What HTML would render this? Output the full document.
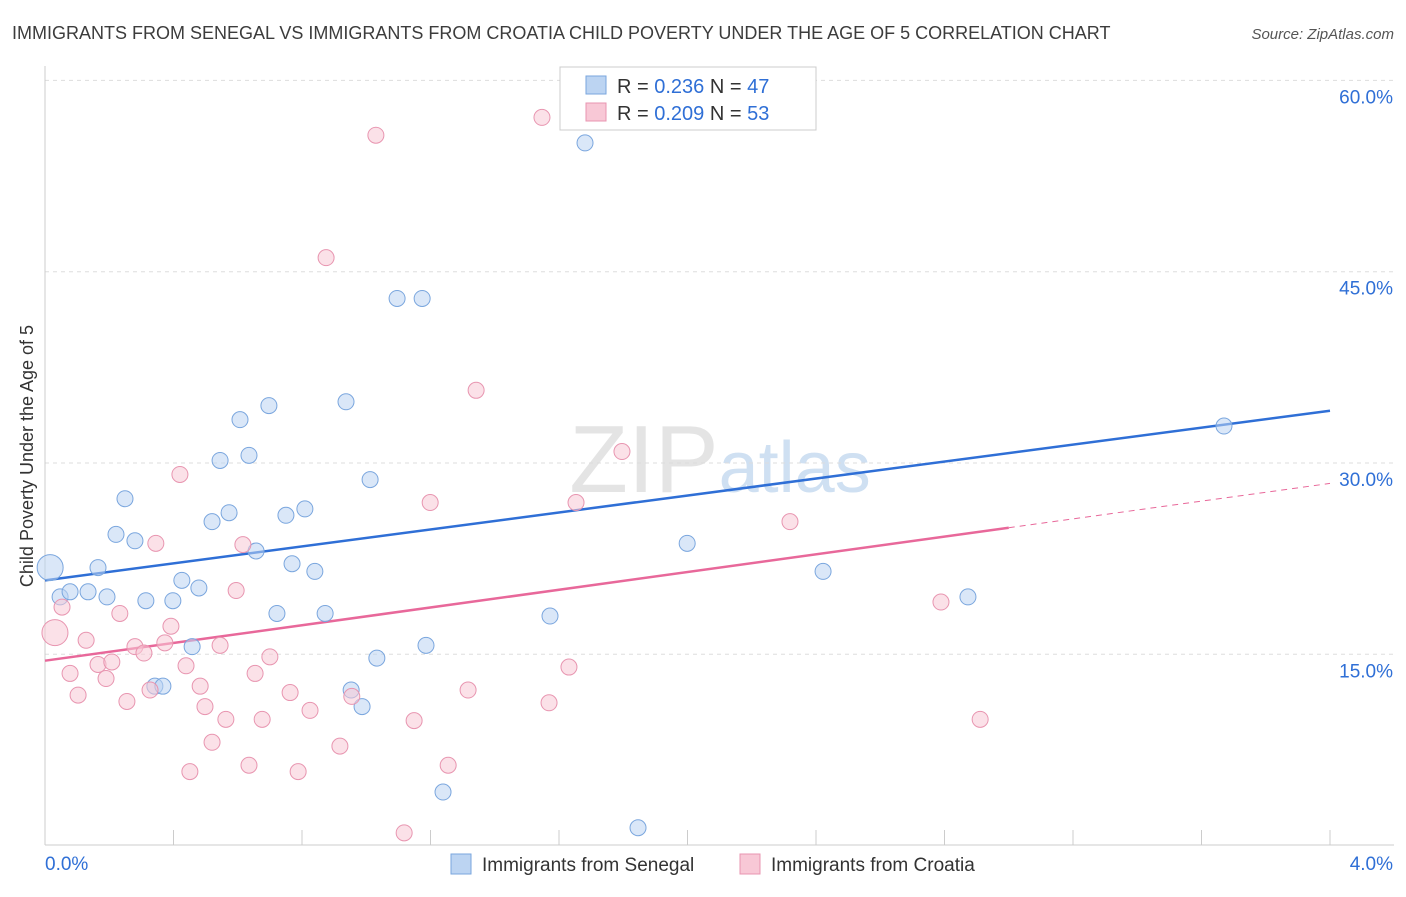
<!DOCTYPE html>
<html><head><meta charset="utf-8"><style>
body{margin:0;background:#fff;font-family:"Liberation Sans",sans-serif;}
svg text{font-family:"Liberation Sans",sans-serif;}
</style></head><body>
<svg id="chart" width="1406" height="892" xmlns="http://www.w3.org/2000/svg">
<text x="12" y="39" font-size="18" fill="#3c3c3c">IMMIGRANTS FROM SENEGAL VS IMMIGRANTS FROM CROATIA CHILD POVERTY UNDER THE AGE OF 5 CORRELATION CHART</text>
<text x="1394" y="39" font-size="15" fill="#555" text-anchor="end" font-style="italic">Source: ZipAtlas.com</text>
<text x="720" y="492" font-size="96" fill="#e4e4e4" text-anchor="middle" font-family="Liberation Serif">ZIP<tspan fill="#cfe0f2" font-family="Liberation Sans" font-size="72">atlas</tspan></text>
<text transform="translate(33,456) rotate(-90)" font-size="18" fill="#333" text-anchor="middle">Child Poverty Under the Age of 5</text>
<g id="grid"></g><g id="axes"></g><g id="lines"></g><g id="pts"></g>
<g>
<rect x="560" y="67" width="256" height="63" fill="#fff" stroke="#ccc"/>
<rect x="586" y="76" width="20" height="18" fill="#bcd4f2" stroke="#7aa6de"/>
<rect x="586" y="103" width="20" height="18" fill="#f8c8d6" stroke="#e895b0"/>
<text x="617" y="93" font-size="20" fill="#333">R = <tspan fill="#2f6fd6">0.236</tspan>   N = <tspan fill="#2f6fd6">47</tspan></text>
<text x="617" y="120" font-size="20" fill="#333">R = <tspan fill="#2f6fd6">0.209</tspan>   N = <tspan fill="#2f6fd6">53</tspan></text>
</g>
<g>
<rect x="451" y="854" width="20" height="20" fill="#bcd4f2" stroke="#7aa6de"/>
<text x="482" y="871" font-size="19" fill="#333">Immigrants from Senegal</text>
<rect x="740" y="854" width="20" height="20" fill="#f8c8d6" stroke="#e895b0"/>
<text x="771" y="871" font-size="19" fill="#333">Immigrants from Croatia</text>
</g>
</svg>
<script>
const yTicks=[15,30,45,60];
const xTickVals=[0,0.4,0.8,1.2,1.6,2.0,2.4,2.8,3.2,3.6,4.0];
const senegalX=[0.016,0.047,0.078,0.134,0.165,0.193,0.221,0.249,0.280,0.314,0.342,0.367,0.398,0.426,0.479,0.458,0.520,0.545,0.573,0.607,0.635,0.657,0.697,0.722,0.750,0.769,0.809,0.840,0.872,0.937,0.953,0.987,1.012,1.033,1.096,1.174,1.186,1.239,1.572,1.681,1.846,1.999,2.422,2.873,3.670];
const senegalY=[21.8,19.5,19.9,19.9,21.8,19.5,24.4,27.2,23.9,19.2,12.5,12.5,19.2,20.8,20.2,15.6,25.4,30.2,26.1,33.4,30.6,23.1,34.5,18.2,25.9,22.1,26.4,21.5,18.2,34.8,12.2,10.9,28.7,14.7,42.9,42.9,15.7,4.2,18.0,55.1,1.4,23.7,21.5,19.5,32.9];
const croatiaX=[0.031,0.053,0.078,0.103,0.128,0.165,0.190,0.208,0.233,0.255,0.280,0.308,0.327,0.345,0.373,0.392,0.420,0.439,0.451,0.483,0.498,0.520,0.545,0.563,0.595,0.616,0.635,0.654,0.676,0.700,0.763,0.788,0.825,0.875,0.918,0.955,1.030,1.118,1.149,1.199,1.255,1.317,1.342,1.547,1.569,1.631,1.653,1.796,2.319,2.789,2.911];
const croatiaY=[16.7,18.7,13.5,11.8,16.1,14.2,13.1,14.4,18.2,11.3,15.6,15.1,12.2,23.7,15.9,17.2,29.1,14.1,5.8,12.5,10.9,8.1,15.7,9.9,20.0,23.6,6.3,13.5,9.9,14.8,12.0,5.8,10.6,46.1,7.8,11.7,55.7,1.0,9.8,26.9,6.3,12.2,35.7,57.1,11.2,14.0,26.9,30.9,25.4,19.1,9.9];
const senegalTrend=[20.8,34.1];
const croatiaTrend=[14.5,28.4];
const croatiaSolidEnd=3.0;
const X=v=>45+v/4*1285, Y=v=>845.6-v/15*191.3;
const NS="http://www.w3.org/2000/svg";
function mk(p,t,a){const e=document.createElementNS(NS,t);for(const k in a)e.setAttribute(k,a[k]);document.getElementById(p).appendChild(e);return e;}
yTicks.forEach(v=>{
 const l=mk('grid','line',{x1:45,x2:1394,y1:Y(v),y2:Y(v),stroke:'#ddd','stroke-dasharray':'4,4'});
 
 
 const t=mk('grid','text',{x:1393,y:Y(v)+23,'font-size':19,fill:'#2f6fd6','text-anchor':'end'});
 t.textContent=v.toFixed(1)+'%';
 
 
});
const ax=mk('axes','line',{x1:45,x2:45,y1:66,y2:845,stroke:'#ccc'});


const bx=mk('axes','line',{x1:45,x2:1394,y1:845,y2:845,stroke:'#ccc'});


xTickVals.forEach(v=>{
 const l=mk('axes','line',{x1:X(v),x2:X(v),y1:830,y2:845,stroke:'#ccc'});
 
 
});
[[0,'0.0%','start',45],[4,'4.0%','end',1393]].forEach(([v,s,a,x])=>{
 const t=mk('axes','text',{x:x,y:870,'font-size':19,fill:'#2f6fd6','text-anchor':a});
 t.textContent=s;
 
 
});
function pts(xs,ys,fill,stroke,name){xs.forEach((x,i)=>{
 const r=i===0?13:8;
 const c=mk('pts','circle',{cx:X(x),cy:Y(ys[i]),r:r,fill:fill,stroke:stroke,'stroke-width':1,'fill-opacity':0.55});
 
 
});}
pts(senegalX,senegalY,'#bcd4f2','#7aa6de','senegal-point');
pts(croatiaX,croatiaY,'#f8c8d6','#e895b0','croatia-point');
const b=mk('lines','line',{x1:X(0),y1:Y(senegalTrend[0]),x2:X(4),y2:Y(senegalTrend[1]),stroke:'#2f6fd6','stroke-width':2.5});


const ce=croatiaTrend[0]+(croatiaTrend[1]-croatiaTrend[0])*croatiaSolidEnd/4;
const p=mk('lines','line',{x1:X(0),y1:Y(croatiaTrend[0]),x2:X(croatiaSolidEnd),y2:Y(ce),stroke:'#e8689a','stroke-width':2.5});


const pd=mk('lines','line',{x1:X(croatiaSolidEnd),y1:Y(ce),x2:X(4),y2:Y(croatiaTrend[1]),stroke:'#e8689a','stroke-width':1,'stroke-dasharray':'6,5'});


</script>
</body></html>
